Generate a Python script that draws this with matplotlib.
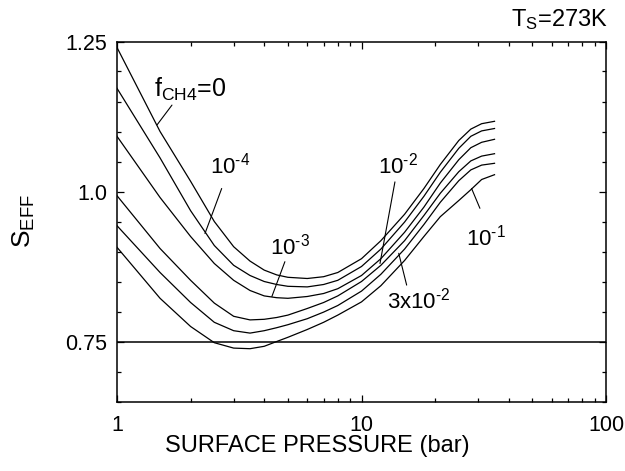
import matplotlib
matplotlib.use('Agg')
import matplotlib.pyplot as plt
from matplotlib.ticker import LogLocator, NullFormatter, MultipleLocator, FixedLocator, FixedFormatter

plt.rcParams['font.family'] = ['Liberation Sans', 'DejaVu Sans']
plt.rcParams['mathtext.fontset'] = 'custom'
plt.rcParams['mathtext.rm'] = 'Liberation Sans'
plt.rcParams['mathtext.it'] = 'Liberation Sans'
plt.rcParams['mathtext.bf'] = 'Liberation Sans:bold'

# ---- data ----
pressure = [1, 1.5, 2, 2.5, 3, 3.5, 4, 4.5, 5, 6, 7, 8, 10, 12, 15, 18, 21, 25, 28, 31, 35]

s_f0    = [1.240, 1.100, 1.017, 0.950, 0.908, 0.884, 0.869, 0.861, 0.857, 0.855, 0.858, 0.865,
           0.888, 0.918, 0.962, 1.005, 1.045, 1.085, 1.104, 1.113, 1.117]
s_f1e4  = [1.172, 1.056, 0.968, 0.910, 0.877, 0.860, 0.850, 0.845, 0.842, 0.841, 0.845, 0.852,
           0.875, 0.904, 0.949, 0.992, 1.032, 1.072, 1.092, 1.101, 1.105]
s_f1e3  = [1.092, 0.990, 0.925, 0.880, 0.852, 0.835, 0.826, 0.823, 0.822, 0.825, 0.830, 0.838,
           0.860, 0.888, 0.932, 0.974, 1.014, 1.053, 1.073, 1.082, 1.087]
s_f1e2  = [0.993, 0.905, 0.852, 0.814, 0.792, 0.786, 0.787, 0.790, 0.794, 0.805, 0.815, 0.826,
           0.850, 0.877, 0.918, 0.960, 0.997, 1.033, 1.051, 1.059, 1.063]
s_f3e2  = [0.943, 0.865, 0.815, 0.782, 0.768, 0.764, 0.768, 0.773, 0.778, 0.788, 0.799, 0.810,
           0.834, 0.862, 0.904, 0.945, 0.982, 1.018, 1.036, 1.044, 1.047]
s_f1e1  = [0.907, 0.822, 0.775, 0.748, 0.739, 0.738, 0.742, 0.750, 0.757, 0.770, 0.782, 0.794,
           0.816, 0.843, 0.885, 0.925, 0.958, 0.985, 1.003, 1.020, 1.028]

series = [s_f0, s_f1e4, s_f1e3, s_f1e2, s_f3e2, s_f1e1]
reference_level = 0.75

x_ticks = [1, 10, 100]
x_tick_labels = ['1', '10', '100']
y_ticks = [0.75, 1.0, 1.25]
y_tick_labels = ['0.75', '1.0', '1.25']

# ---- figure ----
fig = plt.figure(figsize=(6.25, 4.71), dpi=100)
ax = fig.add_axes([117/625, 1 - 401.5/471, 489/625, 360/471])

for vals in series:
    ax.plot(pressure, vals, color='black', lw=0.9)
ax.axhline(reference_level, color='black', lw=1.1)

ax.set_xscale('log')
ax.set_xlim(1, 100)
ax.set_ylim(0.65, 1.25)
ax.xaxis.set_major_locator(FixedLocator(x_ticks))
ax.xaxis.set_major_formatter(FixedFormatter(x_tick_labels))
ax.xaxis.set_minor_locator(LogLocator(base=10, subs=range(2, 10)))
ax.xaxis.set_minor_formatter(NullFormatter())
ax.yaxis.set_major_locator(FixedLocator(y_ticks))
ax.yaxis.set_major_formatter(FixedFormatter(y_tick_labels))
ax.yaxis.set_minor_locator(MultipleLocator(0.05))

ax.tick_params(which='both', direction='in', top=True, right=True, labelsize=15.5, width=0.9)
ax.tick_params(which='major', length=5)
ax.tick_params(which='minor', length=3)
ax.tick_params(axis='x', which='major', pad=10)
ax.tick_params(axis='y', which='major', pad=7)
for s in ax.spines.values():
    s.set_linewidth(1.1)

ax.set_xlabel('SURFACE PRESSURE (bar)', fontsize=17)
ax.xaxis.set_label_coords(0.41, -0.092)
ax.set_ylabel(r'$\mathregular{S_{EFF}}$', fontsize=19)
ax.yaxis.set_label_coords(-0.163, 0.5)

ax.text(1.004, 1.06, r'$\mathregular{T_S}$=273K', transform=ax.transAxes,
        ha='right', va='center', fontsize=17)

def leader(tip, start):
    ax.annotate('', xy=tip, xytext=start,
                arrowprops=dict(arrowstyle='-', lw=0.8, color='black', shrinkA=0, shrinkB=0))

ax.text(1.42, 1.17, r'$\mathregular{f_{CH4}}$=0', ha='left', va='center', fontsize=18)
leader((1.458, 1.111), (1.678, 1.144))

ax.text(2.9, 1.044, r'$\mathregular{10^{\text{-}4}}$', ha='center', va='center', fontsize=16)
leader((2.29, 0.930), (2.68, 1.005))

ax.text(5.1, 0.9075, r'$\mathregular{10^{\text{-}3}}$', ha='center', va='center', fontsize=16)
leader((4.30, 0.825), (4.86, 0.883))

ax.text(14.1, 1.044, r'$\mathregular{10^{\text{-}2}}$', ha='center', va='center', fontsize=16)
leader((11.9, 0.880), (13.7, 1.016))

ax.text(17.2, 0.8175, r'$\mathregular{3x10^{\text{-}2}}$', ha='center', va='center', fontsize=16)
leader((14.2, 0.897), (15.3, 0.844))

ax.text(32.3, 0.9225, r'$\mathregular{10^{\text{-}1}}$', ha='center', va='center', fontsize=16)
leader((28.2, 1.005), (30.5, 0.972))

fig.savefig('out.png', dpi=100)
